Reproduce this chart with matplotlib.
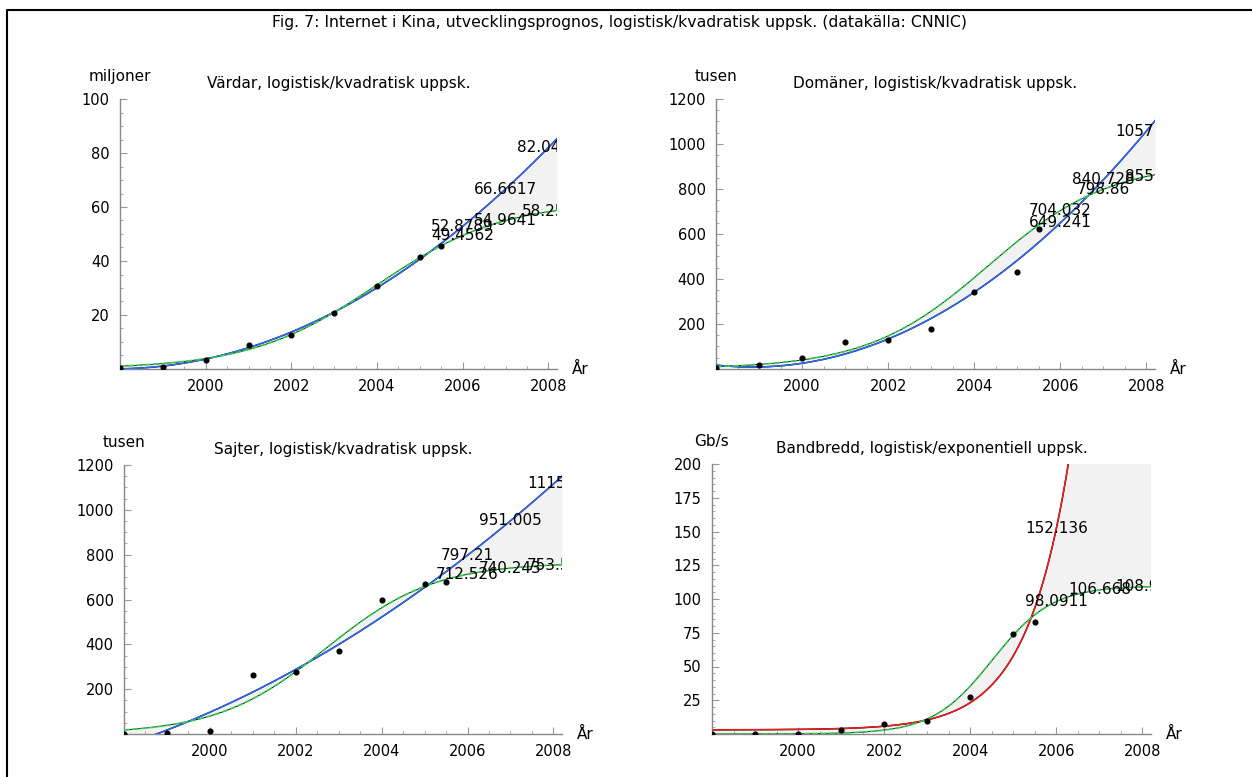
import numpy as np
import matplotlib
matplotlib.use("Agg")
import matplotlib.pyplot as plt
from matplotlib.ticker import MultipleLocator, FixedLocator
from matplotlib.lines import Line2D

# ---------------- data (CNNIC) ----------------
years = [1998, 1999, 2000, 2001, 2002, 2003, 2004, 2005, 2005.5]
hosts = [0.299, 0.747, 3.5, 8.92, 12.54, 20.83, 30.89, 41.6, 45.6]          # miljoner
domains = [4.066, 18.396, 48.695, 122.099, 127.319, 179.544, 340.04, 432.077, 622.534]  # tusen
sites = [1.5, 5.3, 15.153, 265.405, 277.1, 371.6, 595.55, 668.9, 677.5]     # tusen
bandwidth = [0.0254, 0.143, 0.351, 2.799, 7.5975, 9.38, 27.216, 74.429, 82.617]  # Gb/s

# forecast values printed in the chart at 2006, 2007, 2008 (last ones partly hidden -> estimated)
label_years = [2006, 2007, 2008]
hosts_trend = [52.8789, 66.6617, 82.0401]
hosts_logist = [49.4562, 54.9641, 58.255]
domains_trend = [649.241, 840.728, 1057.22]
domains_logist = [704.032, 798.86, 855.4]
sites_trend = [797.21, 951.005, 1115.4]
sites_logist = [712.526, 740.243, 753.51]
bandwidth_logist = [98.0911, 106.668, 108.93]

main_title = "Fig. 7: Internet i Kina, utvecklingsprognos, logistisk/kvadratisk uppsk. (datakälla: CNNIC)"
titles = ["Värdar, logistisk/kvadratisk uppsk.", "Domäner, logistisk/kvadratisk uppsk.",
          "Sajter, logistisk/kvadratisk uppsk.", "Bandbredd, logistisk/exponentiell uppsk."]
units = ["miljoner", "tusen", "tusen", "Gb/s"]
xticks = [2000, 2002, 2004, 2006, 2008]


# ---------------- model helpers ----------------
def logistic_through(ty, vals):
    """Logistic K/(1+exp(-r(t-t0))) passing through three equally spaced values."""
    y1, y2, y3 = vals
    f = lambda K: (K / y1 - 1) * (K / y3 - 1) - (K / y2 - 1) ** 2
    lo, hi = y3 * (1 + 1e-9), y3 * 100
    for _ in range(200):
        mid = 0.5 * (lo + hi)
        if f(mid) < 0:
            lo = mid
        else:
            hi = mid
    K = 0.5 * (lo + hi)
    u1, u2 = K / y1 - 1, K / y2 - 1
    r = np.log(u1 / u2) / (ty[1] - ty[0])
    t0 = ty[0] + np.log(u1) / r
    return lambda x: K / (1.0 + np.exp(-r * (np.asarray(x, float) - t0)))


def quad_through(ty, vals):
    c = np.polyfit(np.asarray(ty, float) - 2000, vals, 2)
    return lambda x: np.polyval(c, np.asarray(x, float) - 2000)


def exp_model(t, y):
    t = np.asarray(t, float)
    A = np.column_stack([np.ones_like(t), np.exp(t - 2000)])
    c, *_ = np.linalg.lstsq(A, np.asarray(y, float), rcond=None)
    return lambda x: c[0] + c[1] * np.exp(np.asarray(x, float) - 2000)


W, H = 1252, 777
fig = plt.figure(figsize=(W / 100, H / 100), dpi=100)

# (left, top, right, bottom) in pixels
boxes = [(120, 99, 557, 369), (716, 99, 1155, 369), (124, 465, 562, 734), (712, 464, 1151, 734)]
series = [hosts, domains, sites, bandwidth]
trends = [quad_through(label_years, hosts_trend), quad_through(label_years, domains_trend),
          quad_through(label_years, sites_trend), exp_model(years, bandwidth)]
logists = [logistic_through(label_years, hosts_logist), logistic_through(label_years, domains_logist),
           logistic_through(label_years, sites_logist), logistic_through(label_years, bandwidth_logist)]
ymax = [100, 1200, 1200, 200]
ystep = [20, 200, 200, 25]
yminor = [5, 50, 50, 5]
trend_color = ["#2f6cff", "#2f6cff", "#2f6cff", "#ff1a1a"]

for i in range(4):
    l, tp, r, b = boxes[i]
    ax = fig.add_axes([l / W, 1 - b / H, (r - l) / W, (b - tp) / H])
    y = series[i]
    trend = trends[i]
    logi = logists[i]

    x0, x1 = 1998, 2008.2
    t = np.linspace(x0, x1, 800)
    qt = trend(t); lt = logi(t)
    ax.fill_between(t, qt, lt, color="#f2f2f2", lw=0, zorder=1)
    ax.plot(t, qt, color="black", lw=1.1, zorder=2)
    ax.plot(t, qt, color=trend_color[i], lw=1.0, zorder=3)
    ax.plot(t, lt, color="black", lw=0.6, zorder=2)
    ax.plot(t, lt, color="#2bd14a", lw=1.2, dashes=(3.5, 1.5), zorder=3)
    ax.plot(years, y, "o", color="black", ms=3.4, zorder=5)

    for yr, v in zip(label_years, trend(label_years)):
        ax.text(yr, v, f"{v:.6g}", ha="center", va="center", fontsize=11, clip_on=True, zorder=6)
    for yr, v in zip(label_years, logi(label_years)):
        ax.text(yr, v, f"{v:.6g}", ha="center", va="center", fontsize=11, clip_on=True, zorder=6)

    ax.set_xlim(x0, x1)
    ax.set_ylim(0, ymax[i])
    for s in ["top", "right"]:
        ax.spines[s].set_visible(False)
    for s in ["left", "bottom"]:
        ax.spines[s].set_color("#888888")
        ax.spines[s].set_linewidth(1.0)
    ax.xaxis.set_major_locator(FixedLocator(xticks))
    ax.xaxis.set_minor_locator(MultipleLocator(0.5))
    ax.yaxis.set_major_locator(FixedLocator(list(range(ystep[i], ymax[i] + 1, ystep[i]))))
    ax.yaxis.set_minor_locator(MultipleLocator(yminor[i]))
    ax.tick_params(which="both", direction="in", color="#999999", labelcolor="black", labelsize=10.5)
    ax.tick_params(which="major", length=5, width=0.8)
    ax.tick_params(which="minor", length=2.5, width=0.6)
    ax.tick_params(axis="x", pad=7)
    ax.tick_params(axis="y", pad=7.5)
    ax.patch.set_alpha(0)

    ax.annotate(titles[i], xy=(0.5, 1), xycoords="axes fraction", xytext=(0, 11.3),
                textcoords="offset points", ha="center", va="center", fontsize=11)
    ax.annotate(units[i], xy=(0, 1), xycoords="axes fraction", xytext=(0, 16),
                textcoords="offset points", ha="center", va="center", fontsize=11)
    ax.annotate("År", xy=(1, 0), xycoords="axes fraction", xytext=(11, 0),
                textcoords="offset points", ha="left", va="center", fontsize=11)

fig.text(620 / W, 1 - 22 / H, main_title, ha="center", va="center", fontsize=11.3)
fig.add_artist(Line2D([7 / W, 7 / W, 1], [0, 1 - 10 / H, 1 - 10 / H], transform=fig.transFigure,
                      color="black", lw=1.5))

fig.savefig("out.png", dpi=100)
